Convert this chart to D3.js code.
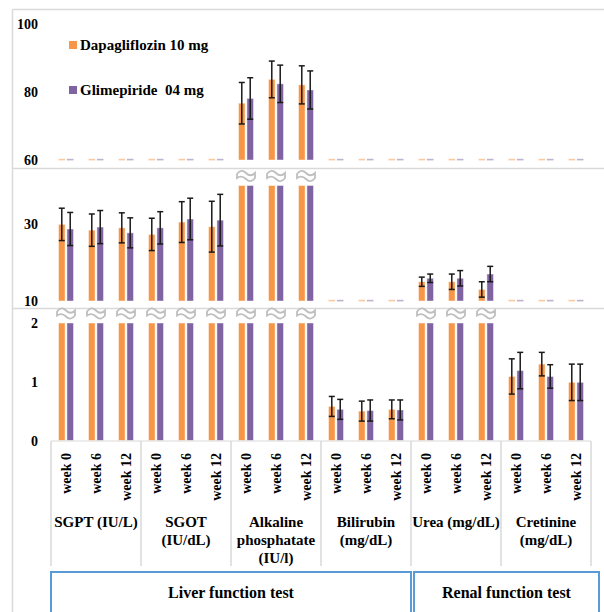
<!DOCTYPE html>
<html>
<head>
<meta charset="utf-8">
<script src="https://cdn.jsdelivr.net/npm/d3@7"></script>
<style>
  html, body { margin: 0; padding: 0; background: #fff; }
  svg { display: block; }
</style>
</head>
<body>
<svg id="chart" width="604" height="612"></svg>
<script>
// ---------- data ----------
const groupLabels = [
  ["SGPT (IU/L)"],
  ["SGOT", "(IU/dL)"],
  ["Alkaline", "phosphatate", "(IU/l)"],
  ["Bilirubin", "(mg/dL)"],
  ["Urea (mg/dL)"],
  ["Cretinine", "(mg/dL)"]
];
const weeks = ["week 0", "week 6", "week 12"];
const seriesNames = ["Dapagliflozin 10 mg", "Glimepiride  04 mg"];
const dapa   = [29.9, 28.4, 29.0, 27.3, 30.5, 29.3, 76.7, 83.7, 82.1, 0.58, 0.50, 0.53, 15.0, 15.0, 13.0, 1.09, 1.30, 0.99];
const dapaSD = [4.2, 4.2, 3.9, 4.2, 5.3, 6.6, 6.1, 5.4, 5.6, 0.17, 0.17, 0.16, 1.2, 2.0, 2.0, 0.30, 0.20, 0.31];
const glim   = [28.7, 29.2, 27.7, 29.0, 31.3, 31.0, 78.1, 82.4, 80.6, 0.53, 0.51, 0.52, 15.9, 15.9, 17.0, 1.19, 1.09, 0.99];
const glimSD = [4.3, 4.3, 3.9, 4.2, 5.4, 6.7, 6.1, 5.5, 5.6, 0.17, 0.18, 0.17, 1.1, 2.0, 2.0, 0.31, 0.20, 0.31];
const topTicks = [60, 80, 100];
const midTicks = [10, 30];
const botTicks = [0, 1, 2];
const sections = [
  { label: "Liver function test", groups: [0, 3] },
  { label: "Renal function test", groups: [4, 5] }
];

// ---------- setup ----------
const FONT = "Liberation Serif";
const colors = ["#F79646", "#8064A2"];
const svg = d3.select("#chart");
const gridCol = "#d9d9d9";

const categories = [];
groupLabels.forEach((g, gi) => weeks.forEach((w, wi) => categories.push(gi + "|" + w)));
const series = [
  { name: seriesNames[0], vals: dapa, sd: dapaSD },
  { name: seriesNames[1], vals: glim, sd: glimSD }
];

const x0 = d3.scaleBand().domain(categories).range([51, 591]).paddingInner(0.5).paddingOuter(0.25);
const x1 = d3.scaleBand().domain([0, 1]).range([0, x0.bandwidth()]).paddingInner(0.22);
const catCenter = c => x0(c) + x0.bandwidth() / 2;
const groupScale = d3.scaleBand().domain(d3.range(groupLabels.length)).range([51, 591]);

const panels = [
  { domain: [60, 100], range: [160, 24], ticks: topTicks, clip: null },
  { domain: [10, 30], range: [301, 224], ticks: midTicks, clip: 40 },
  { domain: [0, 2], range: [440.5, 323], ticks: botTicks, clip: 2 }
];

function txt(sel) {
  return sel.attr("font-family", FONT).attr("font-weight", "bold").attr("fill", "#000");
}

// frame lines
const frame = svg.append("g").attr("stroke", gridCol).attr("stroke-width", 1.5);
frame.append("line").attr("x1", 12.5).attr("x2", 604).attr("y1", 9.5).attr("y2", 9.5);
frame.append("line").attr("x1", 12.5).attr("x2", 12.5).attr("y1", 9.5).attr("y2", 612);
frame.append("line").attr("x1", 12).attr("x2", 604).attr("y1", 168.5).attr("y2", 168.5);
frame.append("line").attr("x1", 12).attr("x2", 604).attr("y1", 308.5).attr("y2", 308.5);

// break symbol path
const breakPath = "M-9,-2 C-6,-6 -3,-6 0,-3 C3,0 6,0 9,-3 L9,2 C6,6 3,6 0,3 C-3,0 -6,0 -9,2 Z";

panels.forEach(p => {
  const y = d3.scaleLinear().domain(p.domain).range(p.range);
  const g = svg.append("g");
  const lo = p.domain[0];
  const base = y(lo);

  // y tick labels
  const axis = d3.axisLeft(y).tickValues(p.ticks).tickFormat(d3.format("d")).tickSize(0).tickPadding(0);
  const ag = g.append("g").attr("transform", "translate(38,0)").call(axis)
    .attr("font-family", FONT).attr("font-size", 14);
  ag.select(".domain").remove();
  txt(ag.selectAll("text")).attr("font-size", 14).attr("dy", "0.35em");

  series.forEach((s, si) => {
    categories.forEach((c, ci) => {
      const v = s.vals[ci];
      const bx = x0(c) + x1(si);
      const bw = x1.bandwidth();
      if (v <= lo) {
        g.append("rect").attr("x", bx).attr("y", base - 1.2).attr("width", bw).attr("height", 1.6)
          .attr("fill", colors[si]).attr("opacity", 0.5);
        return;
      }
      const clipped = p.clip !== null && v > p.clip;
      const top = clipped ? y(p.clip) : y(v);
      g.append("rect").attr("x", bx).attr("y", top).attr("width", bw).attr("height", base - top)
        .attr("fill", colors[si]).attr("stroke", "rgba(255,255,255,0.45)").attr("stroke-width", 1);
      if (!clipped) {
        const cx = bx + bw / 2;
        const e = g.append("g").attr("stroke", "#1a1a1a").attr("stroke-width", 1.5);
        const yHi = y(v + s.sd[ci]), yLo = y(v - s.sd[ci]);
        e.append("line").attr("x1", cx).attr("x2", cx).attr("y1", yHi).attr("y2", yLo);
        e.append("line").attr("x1", cx - 3).attr("x2", cx + 3).attr("y1", yHi).attr("y2", yHi);
        e.append("line").attr("x1", cx - 3).attr("x2", cx + 3).attr("y1", yLo).attr("y2", yLo);
      }
    });
  });

  // break symbols
  if (p.clip !== null) {
    categories.forEach((c, ci) => {
      if (series[0].vals[ci] > p.clip || series[1].vals[ci] > p.clip) {
        g.append("path").attr("d", breakPath)
          .attr("transform", `translate(${catCenter(c)},${y(p.clip) - 9.5})`)
          .attr("fill", "#fff").attr("stroke", "#bfbfbf").attr("stroke-width", 1.8);
      }
    });
  }
});

// category axis
const ax = svg.append("g");
ax.append("line").attr("x1", 51).attr("x2", 591).attr("y1", 441).attr("y2", 441)
  .attr("stroke", gridCol).attr("stroke-width", 1.2);
d3.range(groupLabels.length + 1).forEach(i => {
  const xx = i < groupLabels.length ? groupScale(i) : 591;
  ax.append("line").attr("x1", xx).attr("x2", xx).attr("y1", 441).attr("y2", 566)
    .attr("stroke", gridCol).attr("stroke-width", 1.5);
});
categories.forEach((c, ci) => {
  const cx = catCenter(c);
  txt(ax.append("text")).attr("transform", `translate(${cx + 5},453) rotate(-90)`)
    .attr("text-anchor", "end").attr("font-size", 14).text(weeks[ci % 3]);
});
groupLabels.forEach((lines, gi) => {
  const cx = groupScale(gi) + groupScale.bandwidth() / 2;
  lines.forEach((ln, li) => {
    txt(ax.append("text")).attr("x", cx).attr("y", 527 + li * 18).attr("text-anchor", "middle")
      .attr("font-size", 15).text(ln);
  });
});

// section boxes
const sectionX = [[51, 411], [414, 599]];
sections.forEach((s, i) => {
  const [xa, xb] = sectionX[i];
  svg.append("rect").attr("x", xa).attr("y", 572).attr("width", xb - xa).attr("height", 50)
    .attr("fill", "none").attr("stroke", "#5B9BD5").attr("stroke-width", 2);
  txt(svg.append("text")).attr("x", (xa + xb) / 2).attr("y", 598).attr("text-anchor", "middle")
    .attr("font-size", 16).text(s.label);
});

// legend
series.forEach((s, si) => {
  const ly = 45 + si * 45;
  svg.append("rect").attr("x", 69).attr("y", ly - 4).attr("width", 8).attr("height", 8).attr("fill", colors[si]);
  txt(svg.append("text")).attr("x", 80).attr("y", ly + 5).attr("font-size", 15)
    .attr("xml:space", "preserve").text(s.name);
});
</script>
</body>
</html>
